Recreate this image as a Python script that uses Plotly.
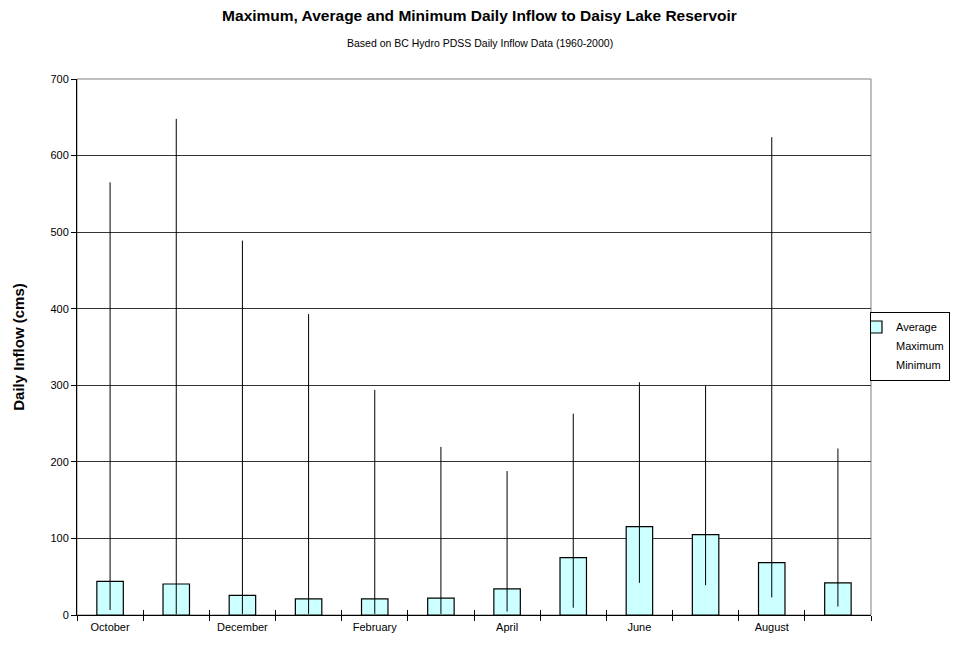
import plotly.graph_objects as go

months = ["October", "November", "December", "January", "February", "March",
          "April", "May", "June", "July", "August", "September"]
average = [44, 40.5, 25.7, 21, 21, 22, 34, 75, 115.5, 105, 68.5, 42]
maximum = [565, 648, 489, 393, 294, 219.5, 188, 263, 304, 299, 624, 217.5]
minimum = [6.5, 1, 1.5, 1.5, 1.5, 1.5, 4.5, 9.5, 42, 39, 23, 11]
label_every = 2
y_ticks = [0, 100, 200, 300, 400, 500, 600, 700]

FONT = "Arial, Liberation Sans, sans-serif"
idx = list(range(len(months)))

# page has an 8px body margin; keep the figure inside the visible window
OFF = 8
W, H = 943, 629

# high-low line segments built from the data
seg_x, seg_y = [], []
for i, lo, hi in zip(idx, minimum, maximum):
    seg_x += [i, i, None]
    seg_y += [lo, hi, None]

fig = go.Figure()
fig.add_trace(go.Bar(
    x=idx, y=average, name="Average", width=0.4,
    marker=dict(color="#CCFFFF", line=dict(color="black", width=1.2)),
))
fig.add_trace(go.Scatter(
    x=idx, y=maximum, name="Maximum", mode="markers",
    marker=dict(color="rgba(0,0,0,0)", size=1),
))
fig.add_trace(go.Scatter(
    x=idx, y=minimum, name="Minimum", mode="markers",
    marker=dict(color="rgba(0,0,0,0)", size=1),
))
fig.add_trace(go.Scatter(
    x=seg_x, y=seg_y, mode="lines", showlegend=False,
    line=dict(color="black", width=1), hoverinfo="skip",
))
# invisible trace on overlay axis for inward tick marks
fig.add_trace(go.Scatter(x=[idx[0]], y=[0], xaxis="x2", mode="markers",
                         marker=dict(color="rgba(0,0,0,0)"), showlegend=False,
                         hoverinfo="skip"))

boundaries = [i - 0.5 for i in idx] + [idx[-1] + 0.5]
xr = [idx[0] - 0.5, idx[-1] + 0.5]

fig.update_layout(
    width=W, height=H,
    margin=dict(l=77 - OFF, r=W - (871 - OFF), t=79 - OFF, b=H - (615 - OFF),
                autoexpand=False),
    paper_bgcolor="white", plot_bgcolor="white",
    font=dict(family=FONT, size=11, color="black"),
    showlegend=True,
    title=dict(
        text="<b>Maximum, Average and Minimum Daily Inflow to Daisy Lake Reservoir</b>",
        x=(479.5 - OFF) / W, xref="container", xanchor="center",
        y=1 - 2 / H, yref="container", yanchor="top", pad=dict(t=0, b=0, l=0, r=0),
        font=dict(family=FONT, size=15.5, color="black"),
    ),
    annotations=[dict(
        text="Based on BC Hydro PDSS Daily Inflow Data (1960-2000)",
        xref="paper", yref="paper", x=(479.5 - 77) / 794, y=(615 - 43) / 536,
        xanchor="center", yanchor="middle", showarrow=False,
        font=dict(family=FONT, size=10.5, color="black"),
    )],
    xaxis=dict(
        range=xr, tickmode="array",
        tickvals=idx[::label_every], ticktext=months[::label_every],
        ticks="", showgrid=False, zeroline=False,
        showline=True, linecolor="black", linewidth=1,
        tickfont=dict(size=11),
        minor=dict(tickvals=boundaries, ticks="outside", ticklen=5,
                   tickcolor="black", tickwidth=1, showgrid=False),
        ticklabelstandoff=2,
    ),
    xaxis2=dict(
        overlaying="x", range=xr, tickmode="array", tickvals=boundaries,
        ticks="inside", ticklen=5, tickcolor="black", showticklabels=False,
        showgrid=False, zeroline=False, showline=False, side="bottom",
    ),
    yaxis=dict(
        range=[0, 700], tickmode="array", tickvals=y_ticks,
        ticks="outside", ticklen=5, tickcolor="black",
        showgrid=True, gridcolor="#333333", gridwidth=1,
        zeroline=False, showline=True, linecolor="black", linewidth=1,
        tickfont=dict(size=11),
        title=dict(text="<b>Daily Inflow (cms)</b>",
                   font=dict(family=FONT, size=15), standoff=22),
    ),
    legend=dict(
        x=(950 - OFF) / W, xref="container", xanchor="right",
        y=1 - (346 - OFF) / H, yref="container", yanchor="middle",
        bordercolor="black", borderwidth=1, bgcolor="white",
        font=dict(size=11), tracegroupgap=0, itemwidth=30,
        indentation=-15,
    ),
    shapes=[dict(type="rect", xref="paper", yref="paper", x0=0, x1=1, y0=0, y1=1,
                 line=dict(color="#808080", width=1), layer="below")],
)

fig.write_html("out.html")
